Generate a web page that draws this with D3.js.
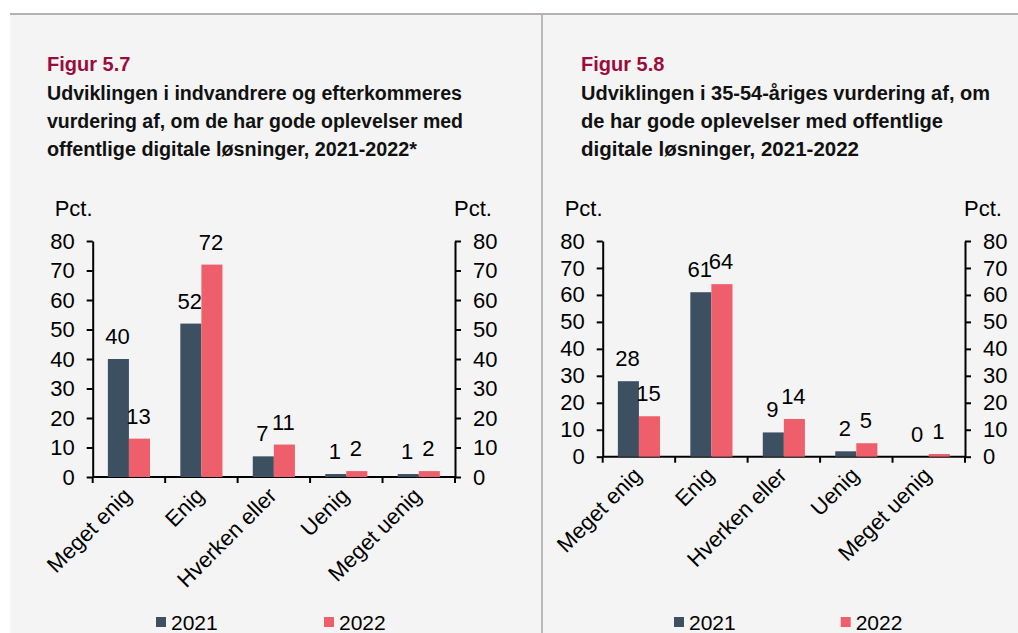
<!DOCTYPE html>
<html>
<head>
  <meta charset="UTF-8">
  <style>
    body { margin: 0; background: #ffffff; }
    svg { display: block; font-family: "Liberation Sans", Arial, sans-serif; }
    .axis path, .axis line { stroke: #000; stroke-width: 2; }
    .axis text { font-size: 22px; fill: #000; font-family: "Liberation Sans", Arial, sans-serif; }
  </style>
</head>
<body>
<svg></svg>
<script src="https://d3js.org/d3.v7.min.js"></script>
<script>
// chart data
const categories = ["Meget enig", "Enig", "Hverken eller", "Uenig", "Meget uenig"];
const years = ["2021", "2022"];
const fig57_2021 = [40, 52, 7, 1, 1];
const fig57_2022 = [13, 72, 11, 2, 2];
const fig58_2021 = [28, 61, 9, 2, 0];
const fig58_2022 = [15, 64, 14, 5, 1];
const yTicks = [0, 10, 20, 30, 40, 50, 60, 70, 80];
const fig57_title = ["Udviklingen i indvandrere og efterkommeres",
                     "vurdering af, om de har gode oplevelser med",
                     "offentlige digitale løsninger, 2021-2022*"];
const fig58_title = ["Udviklingen i 35-54-åriges vurdering af, om",
                     "de har gode oplevelser med offentlige",
                     "digitale løsninger, 2021-2022"];

let width = 1018, height = 633;
let colors = { "2021": "#3c5062", "2022": "#ef5f6b" };

let svg = d3.select("svg").attr("width", width).attr("height", height);

// background, top rule and divider
svg.append("rect").attr("x", 10).attr("y", 14).attr("width", width - 10).attr("height", height - 14)
   .attr("fill", "#f4f4f4");
svg.append("rect").attr("x", 10).attr("y", 13).attr("width", width - 10).attr("height", 2)
   .attr("fill", "#b5b0b1");
svg.append("rect").attr("x", 541).attr("y", 15).attr("width", 2).attr("height", height - 15)
   .attr("fill", "#bdb9b9");

function drawPanel(opt) {
  let g = svg.append("g");

  // heading
  g.append("text")
    .attr("x", opt.titleX).attr("y", 71)
    .style("font-size", "20px").style("font-weight", "bold").style("fill", "#9b0c3c")
    .text(opt.fig);
  opt.title.forEach((line, i) => {
    g.append("text")
      .attr("x", opt.titleX).attr("y", 99.5 + i * 28.2)
      .attr("textLength", opt.titleLen[i]).attr("lengthAdjust", "spacingAndGlyphs")
      .style("font-size", "20px").style("font-weight", "bold").style("fill", "#111")
      .text(line);
  });

  let x = d3.scaleBand().domain(categories).range([opt.left, opt.right]);
  let x1 = d3.scaleBand().domain(years).range([0, x.bandwidth()]).paddingOuter(0.72);
  let y = d3.scaleLinear().domain([0, 80]).range([opt.y0, 241]);

  // y axes
  g.append("g").attr("class", "axis")
    .attr("transform", `translate(${opt.left},0)`)
    .call(d3.axisLeft(y).tickValues(yTicks).tickSize(6).tickSizeOuter(0).tickPadding(12));
  g.append("g").attr("class", "axis")
    .attr("transform", `translate(${opt.right},0)`)
    .call(d3.axisRight(y).tickValues(yTicks).tickSize(6).tickSizeOuter(0).tickPadding(12));

  // x axis with ticks between categories
  let xa = g.append("g").attr("class", "axis");
  xa.append("line").attr("x1", opt.left).attr("x2", opt.right).attr("y1", y(0)).attr("y2", y(0));
  let bounds = categories.map(c => x(c)).concat([opt.right]);
  xa.selectAll(".xt").data(bounds).enter().append("line")
    .attr("x1", d => d).attr("x2", d => d).attr("y1", y(0)).attr("y2", y(0) + 6);
  xa.selectAll(".xl").data(categories).enter().append("text")
    .attr("text-anchor", "end")
    .attr("transform", d => `translate(${x(d) + x.bandwidth() / 2 + 4},${y(0) + opt.labelDy}) rotate(-45)`)
    .text(d => d);

  // Pct. labels
  g.append("text").attr("x", opt.left - 38).attr("y", 216).style("font-size", "22px").text("Pct.");
  g.append("text").attr("x", opt.right - 1).attr("y", 216).style("font-size", "22px").text("Pct.");

  // bars
  let series = years.map((yr, i) => ({ year: yr, values: opt.data[i] }));
  series.forEach(s => {
    let bars = g.append("g");
    bars.selectAll("rect").data(s.values).enter().append("rect")
      .attr("x", (d, i) => x(categories[i]) + x1(s.year))
      .attr("y", d => y(d))
      .attr("width", x1.bandwidth())
      .attr("height", d => y(0) - y(d))
      .attr("fill", colors[s.year]);
    bars.selectAll("text").data(s.values).enter().append("text")
      .attr("x", (d, i) => x(categories[i]) + x1(s.year) + x1.bandwidth() / 2 - 1)
      .attr("y", d => y(d) - 15)
      .attr("text-anchor", "middle")
      .style("font-size", "22px")
      .text(d => d);
  });

  // legend
  years.forEach((yr, i) => {
    g.append("rect").attr("x", opt.legendX[i]).attr("y", 617).attr("width", 10).attr("height", 10)
      .attr("fill", colors[yr]);
    g.append("text").attr("x", opt.legendX[i] + 15).attr("y", 630)
      .style("font-size", "21px").text(yr);
  });
}

drawPanel({
  fig: "Figur 5.7", title: fig57_title, titleX: 47, titleLen: [415, 416, 370],
  left: 92.7, right: 455, y0: 477, labelDy: 20,
  data: [fig57_2021, fig57_2022], legendX: [156, 324]
});
drawPanel({
  fig: "Figur 5.8", title: fig58_title, titleX: 581, titleLen: [409, 362, 278],
  left: 602.7, right: 965, y0: 456.7, labelDy: 20,
  data: [fig58_2021, fig58_2022], legendX: [674, 840.7]
});
</script>
</body>
</html>
